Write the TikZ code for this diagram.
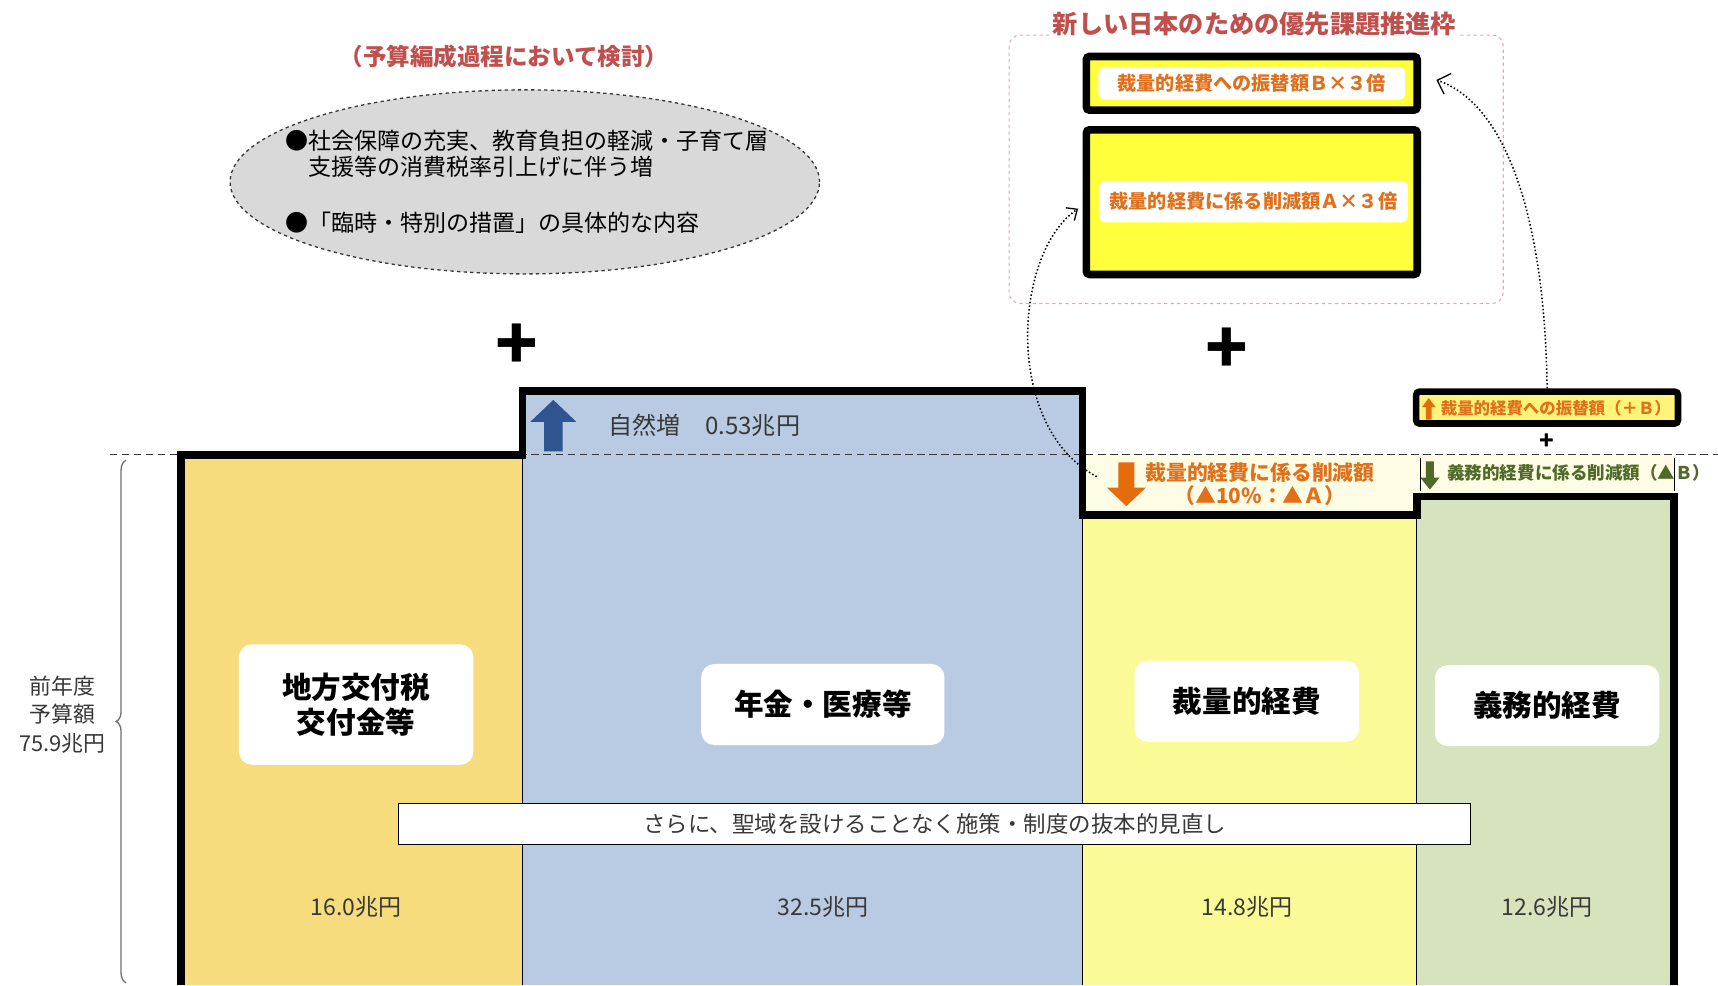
\documentclass[tikz,border=0pt]{standalone}
\usepackage{fontspec}
\setmainfont{Noto Sans CJK JP}
\usetikzlibrary{positioning, shapes.geometric, arrows.meta, decorations.pathreplacing}

\definecolor{goldcol}{HTML}{F6DC7C}
\definecolor{bluecol}{HTML}{B9CBE3}
\definecolor{yelcol}{HTML}{FAFA96}
\definecolor{greencol}{HTML}{D7E3BD}
\definecolor{creamcol}{HTML}{FEFCE4}
\definecolor{boxyel}{HTML}{FFFF3C}
\definecolor{paleyel}{HTML}{FFF47A}
\definecolor{orangetxt}{HTML}{E0701C}
\definecolor{orangearr}{HTML}{E46C0A}
\definecolor{titlered}{HTML}{C0504D}
\definecolor{pinkdash}{HTML}{E8A6B0}
\definecolor{arrowblue}{HTML}{2E5590}
\definecolor{olivearr}{HTML}{4F6A28}
\definecolor{ellgray}{HTML}{D9D9D9}
\definecolor{darktxt}{HTML}{383838}
\definecolor{bracegray}{HTML}{707070}

\newcommand{\fsz}[2]{\fontsize{#1}{#2}\selectfont}

\begin{document}
\begin{tikzpicture}[x=1pt, y=-1pt,
    hotbox/.style={draw=black, line width=7pt, fill=boxyel, rounded corners=3pt},
    whitelbl/.style={fill=white, rounded corners=6pt, text=orangetxt,
                     font=\fsz{17.5}{20}\bfseries},
    colname/.style={fill=white, rounded corners=12pt, align=center,
                    font=\fsz{27}{32}\bfseries},
    amount/.style={text=darktxt, font=\fsz{21}{24}},
    blockarrow/.pic={\fill (-8.5,0) -- (-8.5,-27) -- (-21,-27) -- (0,-47)
                        -- (21,-27) -- (8.5,-27) -- (8.5,0) -- cycle;}]
    \useasboundingbox (0,0) rectangle (1568,899);

    % budget columns
    \fill[goldcol] (165,415) rectangle (477,899);
    \fill[bluecol] (477,357) rectangle (988,899);
    \fill[creamcol] (988,415) rectangle (1528,470);
    \fill[yelcol] (988,470) rectangle (1293,899);
    \fill[greencol] (1293,453) rectangle (1528,899);
    \draw[line width=0.8pt]
        (477,415) -- (477,899)
        (988,470) -- (988,899)
        (1293,453) -- (1293,899);
    \draw[dash pattern=on 7pt off 4pt, line width=1pt, draw=darktxt] (100,415) -- (1568,415);
    \draw[line width=7pt]
        (165,899) -- (165,415) -- (477,415) -- (477,357) -- (988,357)
        -- (988,470) -- (1293,470) -- (1293,453) -- (1528,453) -- (1528,899);

    % last year's total
    \coordinate (bracetop) at (115,420);
    \coordinate (bracebot) at (115,897);
    \draw[decorate,
          decoration={brace, amplitude=9pt},
          line width=1.2pt,
          draw=bracegray] (bracebot) -- (bracetop);
    \node[text=darktxt,
          align=center,
          font=\fsz{20}{26}] (prev) at (57,652) {前年度\\予算額\\75.9兆円};

    % column names and amounts
    \node[colname, minimum width=214pt, minimum height=110pt] (localtax) at (325,643) {地方交付税\\交付金等};
    \node[colname, minimum width=222pt, minimum height=74pt] (pension) at (751,643) {年金・医療等};
    \node[colname, minimum width=205pt, minimum height=74pt] (discr) at (1138,640) {裁量的経費};
    \node[colname, minimum width=205pt, minimum height=74pt] (mandat) at (1412,644) {義務的経費};
    \node[draw=black,
          fill=white,
          line width=0.8pt,
          minimum width=978pt,
          minimum height=38pt,
          text=darktxt,
          font=\fsz{20.5}{24}] (review) at (853,752) {さらに、聖域を設けることなく施策・制度の抜本的見直し};
    \node[amount] (amtlocal) at (325,828) {16.0兆円};
    \node[amount] (amtpension) at (751,828) {32.5兆円};
    \node[amount] (amtdiscr) at (1138,828) {14.8兆円};
    \node[amount] (amtmandat) at (1412,828) {12.6兆円};

    % natural increase
    \pic[color=arrowblue] at (505,412) {blockarrow};
    \node[anchor=west,
          text=darktxt,
          font=\fsz{22}{26}] (natinc) at (552,388) {自然増　0.53兆円};

    % cuts
    \pic[color=orangearr, rotate=180, scale=0.85] at (1028,422) {blockarrow};
    \node[text=orangetxt,
          align=center,
          font=\fsz{19}{21}\bfseries] (cutA) at (1150,442) {裁量的経費に係る削減額\\（▲10\%：▲Ａ）};
    \pic[color=olivearr, rotate=180, xscale=0.42, yscale=0.55] at (1305,421) {blockarrow};
    \node[text=olivearr,
          font=\fsz{16}{18}\bfseries] (cutB) at (1441,432) {義務的経費に係る削減額（▲Ｂ）};
    \draw[line width=0.6pt] (1296,418) -- (1296,448) (1528,418) -- (1528,448);

    % transfer (+B)
    \node[hotbox,
          line width=6pt,
          fill=paleyel,
          minimum width=239pt,
          minimum height=29pt] (plusB) at (1412,372) {};
    \pic[color=orangearr, xscale=0.3, yscale=0.42] at (1304,383) {blockarrow};
    \node[text=orangetxt,
          font=\fsz{15}{17}\bfseries] (plusBlbl) at (1420,373) {裁量的経費への振替額（＋Ｂ）};
    \node[font=\fsz{22}{22}\bfseries] (plussmall) at (1412,403) {+};

    % items to be considered
    \node[ellipse,
          draw=darktxt,
          dashed,
          line width=1.2pt,
          fill=ellgray,
          minimum width=538pt,
          minimum height=168pt] (ell) at (479,166) {};
    \node[anchor=west,
          align=left,
          font=\fsz{21}{24}] (elltext) at (257,166)
        {●社会保障の充実、教育負担の軽減・子育て層\\\hspace*{21pt}支援等の消費税率引上げに伴う増\\[27pt]●「臨時・特別の措置」の具体的な内容};
    \node[text=titlered,
          font=\fsz{21.5}{24}\bfseries] (consider) at (460,52) {（予算編成過程において検討）};

    \node[font=\fsz{64}{64}\bfseries] (plusL) at (472,316) {+};
    \node[font=\fsz{64}{64}\bfseries] (plusR) at (1120,320) {+};

    % priority frame
    \draw[draw=pinkdash, dashed, line width=1pt, rounded corners=10pt] (921,32) rectangle (1372,277);
    \node[fill=white,
          text=titlered,
          font=\fsz{23}{26}\bfseries] (prio) at (1145,22) {新しい日本のための優先課題推進枠};
    \node[hotbox, minimum width=302pt, minimum height=49pt] (boxB) at (1142.5,76) {};
    \node[whitelbl, minimum width=280pt, minimum height=30pt] (lblB) at (boxB) {裁量的経費への振替額Ｂ×３倍};
    \node[hotbox, minimum width=302pt, minimum height=132pt] (boxA) at (1142.5,184.5) {};
    \node[whitelbl, minimum width=282pt, minimum height=38pt] (lblA) at (1144,184) {裁量的経費に係る削減額Ａ×３倍};

    % moves into the frame
    \coordinate (cutsrc) at (1001,435);
    \draw[dotted,
          line width=1.4pt,
          -{Straight Barb[length=8pt, width=14pt, line width=1.2pt]}]
        (cutsrc) .. controls (915,390) and (925,230) .. ([shift={(-4,6)}]boxA.west);
    \draw[dotted,
          line width=1.4pt,
          -{Straight Barb[length=10pt, width=20pt, line width=1.2pt]}]
        (plusB.north) .. controls (1410,200) and (1375,95) .. ([shift={(14,-3)}]boxB.east);
\end{tikzpicture}
\end{document}
